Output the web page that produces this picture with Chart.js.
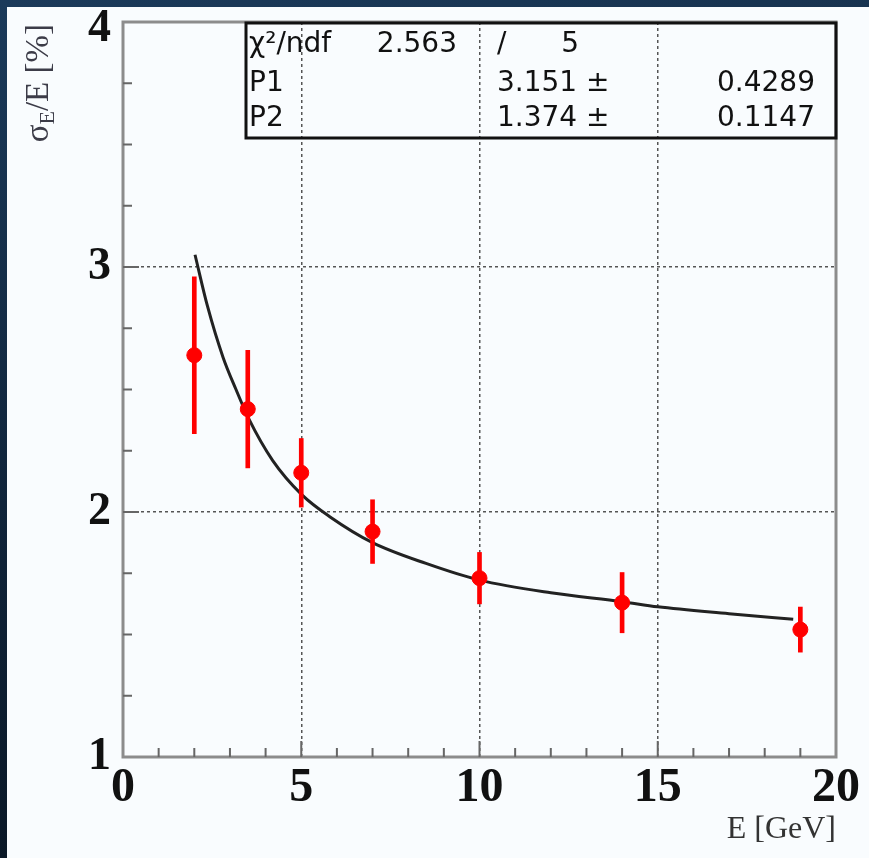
<!DOCTYPE html>
<html>
<head>
<meta charset="utf-8">
<script src="https://cdn.jsdelivr.net/npm/chart.js@4.4.1/dist/chart.umd.min.js"></script>
<style>
  html, body { margin: 0; padding: 0; }
  body {
    width: 869px; height: 858px; overflow: hidden; position: relative;
    background: linear-gradient(170deg, #1b3a5a 0%, #10243a 50%, #08131f 100%);
  }
  #panel { position: absolute; left: 7px; top: 7px; right: 0; bottom: 0; background: #f9fcfe; }
  #wrap { position: absolute; left: 0; top: 0; width: 869px; height: 858px; }
</style>
</head>
<body>
<div id="panel"></div>
<div id="wrap"><canvas id="chart" width="869" height="858"></canvas></div>
<script>
// measured points
const energies   = [2, 3.5, 5, 7, 10, 14, 19];
const resolution = [2.64, 2.42, 2.16, 1.92, 1.73, 1.63, 1.52];
const errors     = [0.32, 0.24, 0.14, 0.13, 0.105, 0.123, 0.092];

// fit curve
const fitE = [2.02, 2.37, 2.81, 3.17, 3.53, 4.2, 5.02, 5.81, 7, 8.5, 10, 12, 14, 15, 17, 18.8];
const fitY = [3.05, 2.84, 2.63, 2.50, 2.38, 2.21, 2.07, 1.98, 1.875, 1.79, 1.722, 1.67, 1.634, 1.613, 1.585, 1.562];

// axis texts
const xTitle = "E [GeV]";
const yTitle = ["σ", "E", "/E [%]"];   // sigma, subscript E, rest

// stats box
const chiText   = ["χ²/ndf", "2.563", "/", "5"];
const parNames  = ["P1", "P2"];
const parValues = ["3.151 ±", "1.374 ±"];
const parErrors = ["0.4289", "0.1147"];

const RED = "#ff0000";

// frame, inward ticks, y title, stats box
const rootStyle = {
  id: "rootStyle",
  beforeDatasetsDraw(chart) {
    const { ctx, chartArea: a, scales: { x, y } } = chart;
    ctx.save();
    ctx.strokeStyle = "#8c8c8c";
    ctx.lineWidth = 3;
    ctx.strokeRect(a.left, a.top, a.right - a.left, a.bottom - a.top);
    ctx.strokeStyle = "#666";
    ctx.lineWidth = 2;
    ctx.beginPath();
    x.ticks.forEach(t => {
      if (t.value <= 0 || t.value >= 20) return;
      const px = x.getPixelForValue(t.value);
      const len = t.value % 5 === 0 ? 16 : 9;
      ctx.moveTo(px, a.bottom);
      ctx.lineTo(px, a.bottom - len);
    });
    y.ticks.forEach(t => {
      if (t.value <= 1 || t.value >= 4) return;
      const py = y.getPixelForValue(t.value);
      const len = Number.isInteger(t.value) ? 16 : 9;
      ctx.moveTo(a.left, py);
      ctx.lineTo(a.left + len, py);
    });
    ctx.stroke();
    ctx.restore();
  },
  afterDraw(chart) {
    const { ctx, chartArea: a } = chart;
    ctx.save();

    // y title, rotated, with subscript
    ctx.translate(39, 24);
    ctx.rotate(-Math.PI / 2);
    ctx.fillStyle = "#3c3c48";
    ctx.textBaseline = "middle";
    const big = "33px 'Liberation Serif'", small = "22px 'Liberation Serif'";
    ctx.font = big;   const w0 = ctx.measureText(yTitle[0]).width, w2 = ctx.measureText(yTitle[2]).width;
    ctx.font = small; const w1 = ctx.measureText(yTitle[1]).width;
    let tx = -(w0 + w1 + w2);
    ctx.font = big;   ctx.fillText(yTitle[0], tx, 0); tx += w0;
    ctx.font = small; ctx.fillText(yTitle[1], tx, 9); tx += w1;
    ctx.font = big;   ctx.fillText(yTitle[2], tx, 0);
    ctx.setTransform(1, 0, 0, 1, 0, 0);

    // stats box
    ctx.strokeStyle = "#111";
    ctx.lineWidth = 3;
    ctx.strokeRect(246, a.top + 1, a.right - 246, 115);
    ctx.fillStyle = "#111";
    ctx.textBaseline = "middle";
    ctx.font = "28px 'DejaVu Sans'";
    const put = (txt, px, py, align) => {
      ctx.textAlign = align;
      ctx.fillText(txt, px, py);
    };
    const rows = [45, 84, 119];
    put(chiText[0], 249, rows[0], "left");
    put(chiText[1], 457, rows[0], "right");
    put(chiText[2], 497, rows[0], "left");
    put(chiText[3], 579, rows[0], "right");
    parNames.forEach((n, i) => {
      put(n, 249, rows[i + 1], "left");
      put(parValues[i], 497, rows[i + 1], "left");
      put(parErrors[i], 815, rows[i + 1], "right");
    });
    ctx.restore();
  }
};

new Chart(document.getElementById("chart"), {
  type: "scatter",
  data: {
    datasets: [
      {
        type: "scatter",
        data: energies.map((e, i) => ({ x: e, y: resolution[i] })),
        backgroundColor: RED,
        borderColor: RED,
        pointRadius: 7.5,
        pointHoverRadius: 7.5,
        order: 1
      },
      {
        type: "bar",
        data: energies.map((e, i) => ({ x: e, y: [resolution[i] - errors[i], resolution[i] + errors[i]] })),
        backgroundColor: RED,
        borderWidth: 0,
        barThickness: 4,
        order: 2
      },
      {
        type: "line",
        data: fitE.map((e, i) => ({ x: e, y: fitY[i] })),
        borderColor: "#222",
        borderWidth: 3,
        pointRadius: 0,
        fill: false,
        cubicInterpolationMode: "monotone",
        order: 3
      }
    ]
  },
  options: {
    responsive: false,
    devicePixelRatio: 1,
    animation: false,
    layout: { padding: { left: 0, top: 22, right: 33, bottom: 0 } },
    plugins: { legend: { display: false }, tooltip: { enabled: false } },
    scales: {
      x: {
        type: "linear",
        min: 0, max: 20,
        offset: false,
        grid: {
          offset: false,
          drawTicks: false,
          lineWidth: 1.5,
          color: c => (c.tick && c.tick.value % 5 === 0 && c.tick.value > 0 && c.tick.value < 20) ? "#555" : "rgba(0,0,0,0)"
        },
        border: { display: false, dash: [3, 3] },
        ticks: {
          stepSize: 1,
          autoSkip: false,
          maxRotation: 0,
          padding: 8,
          color: "#111",
          font: { family: "'Liberation Serif'", size: 48, weight: "bold", lineHeight: 1 },
          callback: v => (v % 5 === 0 ? String(v) : "")
        },
        title: {
          display: true,
          text: xTitle,
          align: "end",
          color: "#333",
          font: { family: "'Liberation Serif'", size: 32 },
          padding: { top: 0, bottom: 9 }
        },
        afterFit: s => { s.height = 101; }
      },
      y: {
        type: "linear",
        min: 1, max: 4,
        beginAtZero: false,
        grid: {
          drawTicks: false,
          lineWidth: 1.5,
          color: c => (c.tick && Number.isInteger(c.tick.value) && c.tick.value > 1 && c.tick.value < 4) ? "#555" : "rgba(0,0,0,0)"
        },
        border: { display: false, dash: [3, 3] },
        ticks: {
          stepSize: 0.25,
          autoSkip: false,
          padding: 12,
          color: "#111",
          font: { family: "'Liberation Serif'", size: 46, weight: "bold", lineHeight: 0.32 },
          // top label sits a little lower, as in the original
          callback: v => (v === 4 ? ["", "4"] : Number.isInteger(v) ? String(v) : "")
        },
        afterFit: s => { s.width = 123; s.paddingTop = 0; s.paddingBottom = 0; }
      }
    }
  },
  plugins: [rootStyle]
});
</script>
</body>
</html>
